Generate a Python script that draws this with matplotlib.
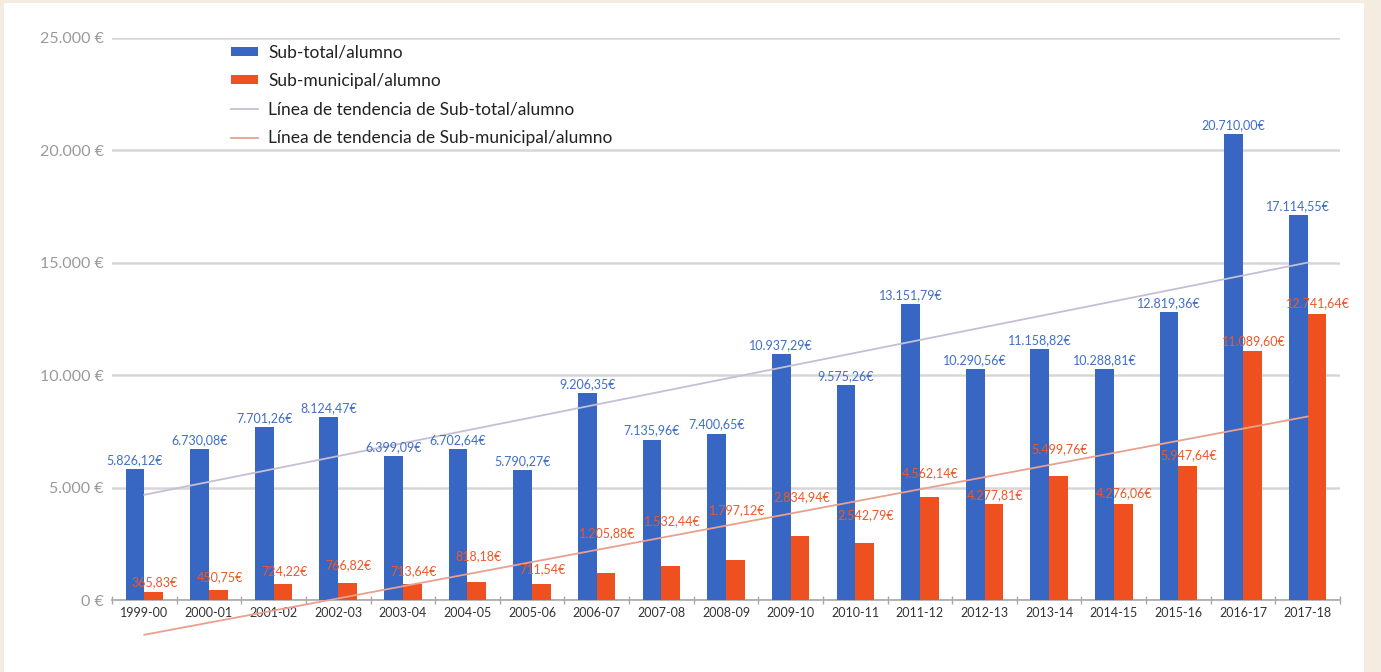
import numpy as np
import matplotlib
matplotlib.use("Agg")
import matplotlib.pyplot as plt
from matplotlib.patches import Rectangle
from matplotlib.lines import Line2D
from matplotlib.patches import Patch

categories = ["1999-00", "2000-01", "2001-02", "2002-03", "2003-04", "2004-05",
              "2005-06", "2006-07", "2007-08", "2008-09", "2009-10", "2010-11",
              "2011-12", "2012-13", "2013-14", "2014-15", "2015-16", "2016-17",
              "2017-18"]
sub_total = [5826.12, 6730.08, 7701.26, 8124.47, 6399.09, 6702.64, 5790.27,
             9206.35, 7135.96, 7400.65, 10937.29, 9575.26, 13151.79, 10290.56,
             11158.82, 10288.81, 12819.36, 20710.00, 17114.55]
sub_municipal = [365.83, 450.75, 724.22, 766.82, 713.64, 818.18, 711.54,
                 1205.88, 1532.44, 1797.12, 2834.94, 2542.79, 4562.14, 4277.81,
                 5499.76, 4276.06, 5947.64, 11089.60, 12741.64]
y_ticks = [0, 5000, 10000, 15000, 20000, 25000]
legend_labels = ["Sub-total/alumno", "Sub-municipal/alumno",
                 "Línea de tendencia de Sub-total/alumno",
                 "Línea de tendencia de Sub-municipal/alumno"]

# layout: manual vertical offsets (pixels) of the municipal data labels
muni_label_px = [10, 13, 13, 18, 13, 25, 15, 40, 44, 49, 39, 28, 24, 9, 27,
                 11, 11, 10, 10]

BLUE = "#3767c2"
ORANGE = "#ef5020"
BLUE_TXT = "#3f6fc8"
ORANGE_TXT = "#f0582a"
TREND_BLUE = "#c6bfd4"
TREND_ORANGE = "#e9a08e"

plt.rcParams['font.family'] = ['Lato', 'DejaVu Sans']

def fmt_eur(v, dec=2):
    s = f"{v:,.{dec}f}"
    s = s.replace(",", "X").replace(".", ",").replace("X", ".")
    return s

fig = plt.figure(figsize=(13.81, 6.72), dpi=100, facecolor="#f4ece1")
fig.patches.append(Rectangle((0.003, 0.0), 0.985, 0.995, transform=fig.transFigure,
                             facecolor="white", edgecolor="none", zorder=-10))
ax = fig.add_axes([0.0811, 0.1071, 0.8892, 0.8364])
ax.set_facecolor("none")
ax.set_zorder(2)

x = np.arange(len(categories))
w = 0.29
ax.bar(x - w / 2, sub_total, width=w, color=BLUE, zorder=3)
ax.bar(x + w / 2, sub_municipal, width=w, color=ORANGE, zorder=3)

# trend lines (linear least squares)
for data, col in [(sub_total, TREND_BLUE), (sub_municipal, TREND_ORANGE)]:
    k, b = np.polyfit(x, data, 1)
    xs = np.array([x[0], x[-1]])
    ax.plot(xs, k * xs + b, color=col, lw=1.3, zorder=4, clip_on=False)

for xi, v in zip(x, sub_total):
    ax.annotate(fmt_eur(v) + "€", (xi - w / 2, v), xytext=(0, 9 * 0.72),
                textcoords="offset points", ha="center", va="center",
                fontsize=9, color=BLUE_TXT, zorder=5)
for xi, v, off in zip(x, sub_municipal, muni_label_px):
    ax.annotate(fmt_eur(v) + "€", (xi + w / 2, v), xytext=(1, off * 0.72),
                textcoords="offset points", ha="center", va="center",
                fontsize=9, color=ORANGE_TXT, zorder=5)

ax.set_xlim(-0.5, len(categories) - 0.5)
ax.set_ylim(0, 25000)
ax.set_yticks(y_ticks)
ax.set_yticklabels([fmt_eur(t, 0) + " €" for t in y_ticks], fontsize=11.5,
                   color="#9a9a9a")
ax.tick_params(axis="y", length=0, pad=6)
ax.yaxis.grid(True, color="#d6d6d6", lw=1.8, zorder=1)
ax.set_axisbelow(True)

ax.set_xticks(x)
ax.set_xticklabels(categories, fontsize=9, color="#333333")
ax.tick_params(axis="x", length=0, pad=5)
ax.set_xticks(np.arange(-0.5, len(categories)), minor=True)
ax.tick_params(axis="x", which="minor", length=6, direction="inout",
               color="#a8a8a8", width=1)

for s in ["top", "right", "left"]:
    ax.spines[s].set_visible(False)
ax.spines["bottom"].set_color("#a8a8a8")
ax.spines["bottom"].set_linewidth(1.2)

handles = [Patch(facecolor=BLUE, edgecolor="none"),
           Patch(facecolor=ORANGE, edgecolor="none"),
           Line2D([], [], color=TREND_BLUE, lw=1.3),
           Line2D([], [], color=TREND_ORANGE, lw=1.3)]
leg = fig.legend(handles, legend_labels, loc="upper left",
                 bbox_to_anchor=(0.156, 0.957), frameon=False, fontsize=12.5,
                 handlelength=1.55, handleheight=0.4, handletextpad=0.6,
                 labelspacing=0.72, labelcolor="#222222")
leg.set_zorder(10)

fig.savefig("out.png", dpi=100, facecolor=fig.get_facecolor())
